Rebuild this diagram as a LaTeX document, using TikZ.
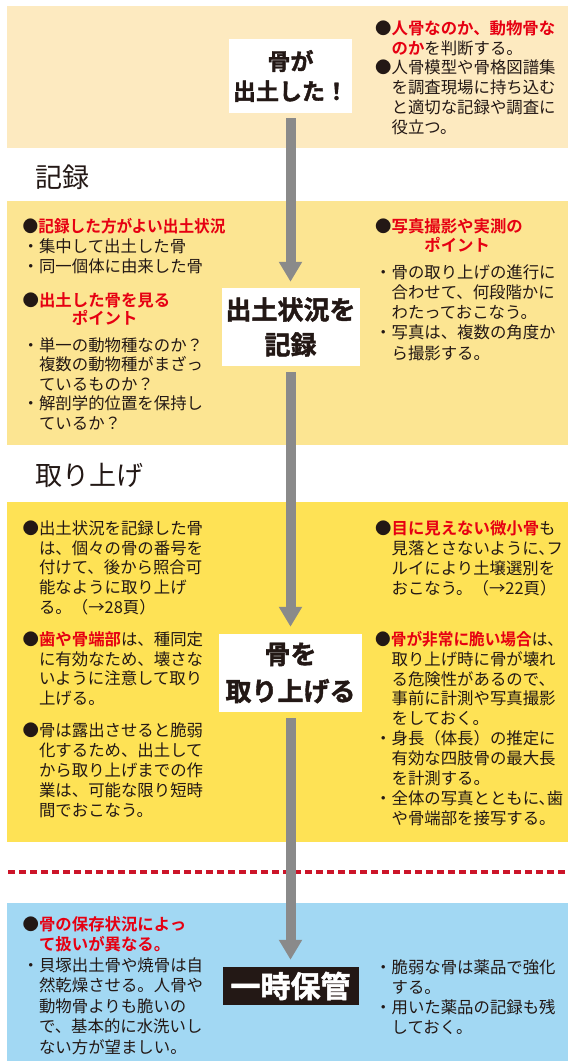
\documentclass[tikz,border=0pt]{standalone}
\usepackage{fontspec}
\usepackage{graphicx}
\setmainfont{Noto Sans CJK JP}[BoldFont={Noto Sans CJK JP Bold}]
\newfontfamily\heavyjp{Noto Sans CJK JP Bold}[FakeBold=1.6]
\usetikzlibrary{arrows.meta}
\definecolor{ink}{HTML}{231815}
\definecolor{jred}{HTML}{E60012}
\definecolor{peach}{HTML}{FDEAC0}
\definecolor{ylwA}{HTML}{FCE592}
\definecolor{ylwB}{HTML}{FEE255}
\definecolor{skyb}{HTML}{A2D8F3}
\definecolor{shaft}{HTML}{8A8A8A}
\definecolor{dashred}{HTML}{CC1429}
\newcommand{\rbt}[1]{\textbf{\textcolor{jred}{#1}}}
\newcommand{\indt}{\hspace*{1em}}
\begin{document}
\begin{tikzpicture}[x=1pt,y=-1pt,
  box/.style={fill=white, inner sep=0pt, align=center, text=ink},
  txt/.style={anchor=base west, align=left, inner sep=0pt, text=ink,
              font=\fontsize{16.4}{#1}\selectfont},
  txt/.default=19.8,
  sect/.style={anchor=base west, inner sep=0pt, text=ink,
               font=\fontsize{27}{27}\selectfont},
  flow/.style={draw=shaft, line width=10pt, -{Triangle[width=22pt,length=20pt]}},
]
\useasboundingbox (0,0) rectangle (568,1061);
% panels
\fill[peach] (6.5,6) rectangle (568,148);
\fill[ylwA] (6.5,201) rectangle (568,445);
\fill[ylwB] (6.5,502) rectangle (568,842);
\fill[skyb] (6.5,903) rectangle (568,1061);
\draw[dashred, line width=4.5pt, dash pattern=on 7pt off 4pt] (8,872) -- (568,872);
% section labels
\node[sect] (s1) at (35,187) {記録};
\node[sect] (s2) at (35,485) {取り上げ};
% flow nodes
\node[box, minimum width=123pt, minimum height=74pt,
      font=\heavyjp\fontsize{23}{30}\selectfont] (n1) at (290.5,76) {骨が\\出土した！};
\node[box, minimum width=138pt, minimum height=78pt,
      font=\heavyjp\fontsize{26}{35}\selectfont] (n2) at (290.5,327) {出土状況を\\記録};
\node[box, minimum width=142.5pt, minimum height=78pt,
      font=\heavyjp\fontsize{26}{37}\selectfont] (n3) at (290.5,673) {骨を\\取り上げる};
\node[box, fill=ink, text=white, minimum width=136pt, minimum height=38pt,
      font=\heavyjp\fontsize{30}{30}\selectfont] (n4) at (290.5,986) {一時保管};
% connectors
\draw[flow, shorten <=5pt, shorten >=6pt] (n1.south) -- (n2.north);
\draw[flow, shorten <=6pt, shorten >=7pt] (n2.south) -- (n3.north);
\draw[flow, shorten <=6pt, shorten >=7pt] (n3.south) -- (n4.north);
% (text nodes are placed by the baseline of their last line)
% panel 1 text
\node[txt] (t1) at (375,133.2) {●\rbt{人骨なのか、動物骨な}\\\indt\rbt{のか}を判断する。\\●人骨模型や骨格図譜集\\\indt を調査現場に持ち込む\\\indt と適切な記録や調査に\\\indt 役立つ。};
% panel 2 text
\node[txt=20] (a1) at (22.5,272.2) {\scalebox{0.955}[1]{●\rbt{記録した方がよい出土状況}}\\・集中して出土した骨\\・同一個体に由来した骨};
\node[txt=18.5] (a2) at (22.5,324.7) {●\rbt{出土した骨を見る}\\\hspace*{3em}\rbt{ポイント}};
\node[txt=19.5] (a3) at (22.5,429.2) {・単一の動物種なのか？\\\indt 複数の動物種がまざっ\\\indt ているものか？\\・解剖学的位置を保持し\\\indt ているか？};
\node[txt=19] (b1) at (375,251.2) {●\rbt{写真撮影や実測の}\\\hspace*{3em}\rbt{ポイント}};
\node[txt=20.2] (b2) at (375,359) {・骨の取り上げの進行に\\\indt 合わせて、何段階かに\\\indt わたっておこなう。\\・写真は、複数の角度か\\\indt ら撮影する。};
% panel 3 text
\node[txt=19.8] (c1) at (22.5,613.4) {●出土状況を記録した骨\\\indt は、個々の骨の番号を\\\indt 付けて、後から照合可\\\indt 能なように取り上げ\\\indt る。（→28頁）};
\node[txt=19.5] (c2) at (22.5,704) {●\rbt{歯や骨端部}は、種同定\\\indt に有効なため、壊さな\\\indt いように注意して取り\\\indt 上げる。};
\node[txt=20] (c3) at (22.5,816.2) {●骨は露出させると脆弱\\\indt 化するため、出土して\\\indt から取り上げまでの作\\\indt 業は、可能な限り短時\\\indt 間でおこなう。};
\node[txt=20] (d1) at (375,594.2) {●\rbt{目に見えない微小骨}も\\\indt 見落とさないように、\kern-.5em フ\\\indt ルイにより土壌選別を\\\indt おこなう。（→22頁）};
\node[txt=19.9] (d2) at (375,824.3) {\scalebox{0.955}[1]{●\rbt{骨が非常に脆い場合}は、}\\\indt 取り上げ時に骨が壊れ\\\indt る危険性があるので、\\\indt 事前に計測や写真撮影\\\indt をしておく。\\・身長（体長）の推定に\\\indt 有効な四肢骨の最大長\\\indt を計測する。\\・全体の写真とともに、\kern-.5em 歯\\\indt や骨端部を接写する。};
% panel 4 text
\node[txt=20] (e1) at (22.5,950.2) {●\rbt{骨の保存状況によっ}\\\indt\rbt{て扱いが異なる。}};
\node[txt=20.5] (e2) at (22.5,1053.2) {・貝塚出土骨や焼骨は自\\\indt 然乾燥させる。人骨や\\\indt 動物骨よりも脆いの\\\indt で、基本的に水洗いし\\\indt ない方が望ましい。};
\node[txt=20] (f1) at (375,1033.2) {・脆弱な骨は薬品で強化\\\indt する。\\・用いた薬品の記録も残\\\indt しておく。};
\end{tikzpicture}
\end{document}
